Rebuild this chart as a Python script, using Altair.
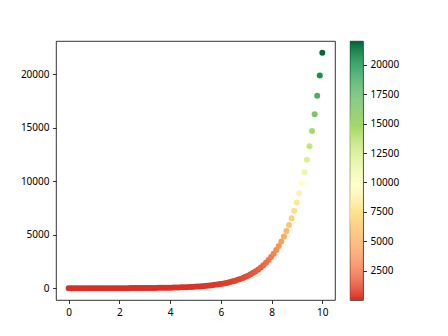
import altair as alt
import pandas as pd
import numpy as np

# x values (100 evenly spread points 0..10)
xs = [0.0, 0.101, 0.202, 0.303, 0.404, 0.505, 0.606, 0.707, 0.808, 0.909,
      1.010, 1.111, 1.212, 1.313, 1.414, 1.515, 1.616, 1.717, 1.818, 1.919,
      2.020, 2.121, 2.222, 2.323, 2.424, 2.525, 2.626, 2.727, 2.828, 2.929,
      3.030, 3.131, 3.232, 3.333, 3.434, 3.535, 3.636, 3.737, 3.838, 3.939,
      4.040, 4.141, 4.242, 4.343, 4.444, 4.545, 4.646, 4.747, 4.848, 4.949,
      5.051, 5.152, 5.253, 5.354, 5.455, 5.556, 5.657, 5.758, 5.859, 5.960,
      6.061, 6.162, 6.263, 6.364, 6.465, 6.566, 6.667, 6.768, 6.869, 6.970,
      7.071, 7.172, 7.273, 7.374, 7.475, 7.576, 7.677, 7.778, 7.879, 7.980,
      8.081, 8.182, 8.283, 8.384, 8.485, 8.586, 8.687, 8.788, 8.889, 8.990,
      9.091, 9.192, 9.293, 9.394, 9.495, 9.596, 9.697, 9.798, 9.899, 10.0]

ys = [1.0, 1.106, 1.224, 1.354, 1.498, 1.657, 1.833, 2.028, 2.244, 2.482,
      2.746, 3.038, 3.361, 3.718, 4.113, 4.550, 5.034, 5.569, 6.161, 6.816,
      7.540, 8.342, 9.228, 10.21, 11.29, 12.49, 13.82, 15.29, 16.92, 18.72,
      20.70, 22.91, 25.34, 28.03, 31.01, 34.31, 37.96, 41.99, 46.46, 51.39,
      56.86, 62.90, 69.59, 76.98, 85.17, 94.22, 104.2, 115.3, 127.6, 141.1,
      156.1, 172.7, 191.1, 211.4, 233.8, 258.7, 286.2, 316.6, 350.3, 387.5,
      428.7, 474.3, 524.7, 580.5, 642.2, 710.5, 786.0, 869.6, 961.6, 1064,
      1177, 1302, 1440, 1593, 1763, 1950, 2157, 2386, 2640, 2921,
      3231, 3575, 3955, 4375, 4840, 5355, 5924, 6554, 7251, 8021,
      8874, 9817, 10860, 12015, 13292, 14705, 16268, 17997, 19910, 22026]

x_ticks = [0, 2, 4, 6, 8, 10]
y_ticks = [0, 5000, 10000, 15000, 20000]
cbar_ticks = [2500, 5000, 7500, 10000, 12500, 15000, 17500, 20000]
cmap_colors = ['#d73027', '#f46d43', '#fdae61', '#fee08b', '#ffffbf',
               '#d9ef8b', '#a6d96a', '#66bd63', '#1a9850', '#006837']

df = pd.DataFrame({"x": xs, "y": ys})

vmin, vmax = min(ys), max(ys)
cdomain = list(np.linspace(vmin, vmax, len(cmap_colors)))
cscale = alt.Scale(domain=cdomain, range=cmap_colors, interpolate="rgb")

font = "Noto Sans"

scatter = alt.Chart(df).mark_circle(size=36, opacity=1).encode(
    x=alt.X("x:Q", scale=alt.Scale(domain=[-0.5, 10.5], nice=False, zero=False),
            axis=alt.Axis(values=x_ticks, title=None, grid=False, domain=False,
                          tickSize=3.5, tickColor="black", tickWidth=0.8,
                          labelPadding=3.5, labelFont=font, labelFontSize=10,
                          labelColor="black", format="d")),
    y=alt.Y("y:Q", scale=alt.Scale(domain=[-1100, 23127], nice=False, zero=False),
            axis=alt.Axis(values=y_ticks, title=None, grid=False, domain=False,
                          tickSize=3.5, tickColor="black", tickWidth=0.8,
                          labelPadding=3.5, labelFont=font, labelFontSize=10,
                          labelColor="black", format="d",
                          minExtent=40, maxExtent=40)),
    color=alt.Color("y:Q", scale=cscale, legend=None),
).properties(width=279, height=259)

edges = np.linspace(vmin, vmax, 257)
cb = pd.DataFrame({"v0": edges[:-1], "v1": edges[1:]})
cb["mid"] = (cb["v0"] + cb["v1"]) / 2

cbar = alt.Chart(cb).mark_rect().encode(
    x=alt.value(0), x2=alt.value(13),
    y=alt.Y("v0:Q", scale=alt.Scale(domain=[vmin, vmax], nice=False, zero=False),
            axis=alt.Axis(orient="right", values=cbar_ticks, title=None, grid=False,
                          domain=False, tickSize=3.5, tickColor="black", tickWidth=0.8,
                          labelPadding=3.5, labelFont=font, labelFontSize=10,
                          labelColor="black", format="d")),
    y2="v1:Q",
    color=alt.Color("mid:Q", scale=cscale, legend=None),
).properties(width=13, height=259)

chart = alt.hconcat(scatter, cbar, spacing=13).resolve_scale(
    y="independent", color="shared"
).properties(
    padding={"left": 15, "top": 40, "right": 5, "bottom": 5},
    background="white",
).configure_view(stroke="black", strokeWidth=0.8)

chart.save("out.html", embed_options={"renderer": "svg", "actions": False})
